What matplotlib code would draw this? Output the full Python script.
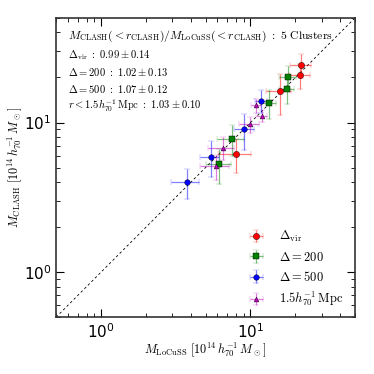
import numpy as np
import matplotlib.pyplot as plt

plt.rcParams['mathtext.fontset'] = 'cm'
plt.rcParams['font.family'] = 'DejaVu Serif'

# masses in 1e14 h70^-1 Msun : LoCuSS (x) vs CLASH (y)
vir_x = [21.9, 21.6, 15.7, 8.05]
vir_y = [24.3, 20.7, 16.2, 6.2]
vir_xerr = [3.5, 3.5, 3.0, 2.0]
vir_yerr = [4.5, 4.0, 5.0, 1.6]

d200_x = [17.9, 17.6, 13.3, 7.5, 6.2]
d200_y = [20.2, 16.8, 13.5, 7.8, 5.3]
d200_xerr = [2.3, 2.0, 1.5, 1.5, 1.2]
d200_yerr = [3.5, 3.5, 3.0, 1.8, 1.4]

d500_x = [11.8, 9.1, 5.4, 3.75]
d500_y = [14.0, 9.0, 5.9, 4.0]
d500_xerr = [1.1, 1.4, 0.8, 0.8]
d500_yerr = [2.5, 2.4, 1.6, 0.9]

mpc_x = [10.9, 11.9, 9.9, 6.5, 5.9]
mpc_y = [13.0, 11.1, 9.75, 6.8, 5.1]
mpc_xerr = [0.8, 1.0, 1.5, 1.3, 1.3]
mpc_yerr = [1.4, 1.0, 1.2, 1.2, 1.0]

fig = plt.figure(figsize=(3.74, 3.74), dpi=100)
ax = fig.add_axes([0.150, 0.152, 0.799, 0.800])

ax.plot([0.5, 50], [0.5, 50], 'k--', lw=0.6, dashes=(3, 3))

series = [
    (vir_x, vir_y, vir_xerr, vir_yerr, 'red', 'o', 4.5, r'$\Delta_{\rm vir}$'),
    (d200_x, d200_y, d200_xerr, d200_yerr, 'green', 's', 4.5, r'$\Delta=200$'),
    (d500_x, d500_y, d500_xerr, d500_yerr, 'blue', 'o', 4.0, r'$\Delta=500$'),
    (mpc_x, mpc_y, mpc_xerr, mpc_yerr, 'm', '^', 3.5, r'$1.5h_{70}^{-1}\,\mathrm{Mpc}$'),
]
for x, y, xe, ye, c, m, ms, lab in series:
    eb = ax.errorbar(x, y, xerr=xe, yerr=ye, fmt=m, color=c, ms=ms, mec='k', mew=0.3,
                     ecolor=c, elinewidth=0.9, capsize=2, capthick=0.9, label=lab)
    for art in eb[2]:
        art.set_alpha(0.5)
    for art in eb[1]:
        art.set_alpha(0.5)

ax.set_xscale('log')
ax.set_yscale('log')
ax.set_xlim(0.5, 50)
ax.set_ylim(0.5, 50)

ax.tick_params(which='both', direction='in', top=True, right=True, labelsize=11)
ax.tick_params(which='major', length=6, width=0.8)
ax.tick_params(which='minor', length=3, width=0.6)
for sp in ax.spines.values():
    sp.set_linewidth(1.2)
    sp.set_color('#333333')
for lab in ax.get_xticklabels() + ax.get_yticklabels():
    lab.set_family('DejaVu Sans')

ax.set_xlabel(r'$M_{\rm LoCuSS}\ [10^{14}\,h_{70}^{-1}\,M_\odot]$', fontsize=8.8, labelpad=0)
ax.set_ylabel(r'$M_{\rm CLASH}\ [10^{14}\,h_{70}^{-1}\,M_\odot]$', fontsize=8.8, labelpad=0)

ax.text(0.04, 0.94, r'$M_{\rm CLASH}(<r_{\rm CLASH})/M_{\rm LoCuSS}(<r_{\rm CLASH})\ :\ 5\ \mathrm{Clusters}$',
        transform=ax.transAxes, fontsize=8.4, va='center')
lines = [r'$\Delta_{\rm vir}\ :\ 0.99\pm0.14$',
         r'$\Delta=200\ :\ 1.02\pm0.13$',
         r'$\Delta=500\ :\ 1.07\pm0.12$',
         r'$r<1.5h_{70}^{-1}\,\mathrm{Mpc}\ :\ 1.03\pm0.10$']
for i, t in enumerate(lines):
    ax.text(0.04, 0.875 - i * 0.056, t, transform=ax.transAxes, fontsize=7.6, va='center')

ax.legend(loc='lower right', frameon=False, fontsize=9, numpoints=1, handlelength=1.6,
          handletextpad=1.0, labelspacing=0.5, borderaxespad=0.3,
          bbox_to_anchor=(0.99, 0.0))

fig.savefig('out.png', dpi=100)
